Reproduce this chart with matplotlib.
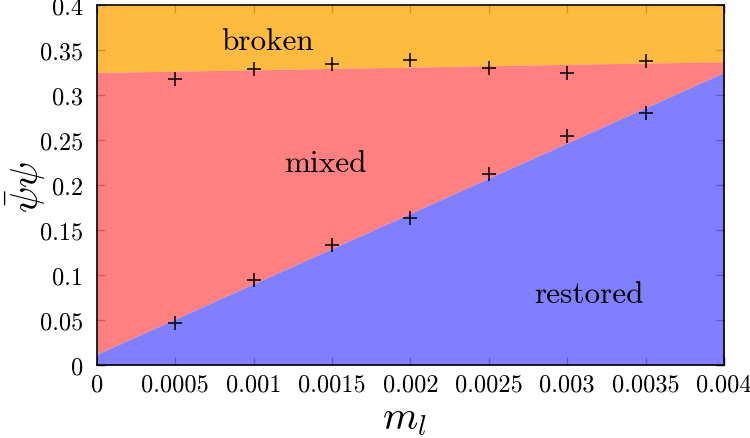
import numpy
import matplotlib
matplotlib.use('Agg')
import matplotlib.pyplot as plt

plt.rcParams['font.family'] = 'serif'
plt.rcParams['font.serif'] = ['cmr10']
plt.rcParams['mathtext.fontset'] = 'cm'
plt.rcParams['axes.formatter.use_mathtext'] = True

# measured points
ml = [0.0005, 0.001, 0.0015, 0.002, 0.0025, 0.003, 0.0035]
pbp_upper = [0.318, 0.3285, 0.3345, 0.339, 0.3305, 0.3245, 0.338]
pbp_lower = [0.0465, 0.094, 0.133, 0.163, 0.212, 0.254, 0.280]

# phase boundaries
bnd_x = [0.0, 0.004]
bnd_top = [0.325, 0.337]
bnd_bot = [0.012, 0.325]

xticks = [0, 0.0005, 0.001, 0.0015, 0.002, 0.0025, 0.003, 0.0035, 0.004]
xlabels = ['0', '0.0005', '0.001', '0.0015', '0.002', '0.0025', '0.003', '0.0035', '0.004']
yticks = [0, 0.05, 0.1, 0.15, 0.2, 0.25, 0.3, 0.35, 0.4]
ylabels = ['0', '0.05', '0.1', '0.15', '0.2', '0.25', '0.3', '0.35', '0.4']

def solid(c, a):
    # colour to use under alpha a so it looks like c over white
    c = numpy.array(matplotlib.colors.to_rgb(c))
    return tuple(numpy.clip((c - (1 - a)) / a, 0, 1))

a = 0.85
fig = plt.figure(figsize=(7.5, 4.39), dpi=100)
ax = fig.add_axes([0.1293, 0.1663, 0.836, 0.820])
ax.set_axisbelow(True)

ax.fill_between(bnd_x, bnd_top, [0.4, 0.4], color=solid('#ffbb40', a), alpha=a, lw=0, zorder=1)
ax.fill_between(bnd_x, bnd_bot, bnd_top, color=solid('#ff8080', a), alpha=a, lw=0, zorder=1)
ax.fill_between(bnd_x, [0, 0], bnd_bot, color=solid('#8080ff', a), alpha=a, lw=0, zorder=1)

ax.plot(ml, pbp_upper, 'k+', ms=10, mew=1.1, zorder=3)
ax.plot(ml, pbp_lower, 'k+', ms=10, mew=1.1, zorder=3)

ax.text(0.001091, 0.3511, 'broken', fontsize=22.5, ha='center', va='baseline', zorder=4)
ax.text(0.001455, 0.2156, 'mixed', fontsize=22.5, ha='center', va='baseline', zorder=4)
ax.text(0.003139, 0.0703, 'restored', fontsize=22.5, ha='center', va='baseline', zorder=4)

ax.set_xlim(0, 0.004)
ax.set_ylim(0, 0.4)
ax.set_xticks(xticks)
ax.set_xticklabels(xlabels)
ax.set_yticks(yticks)
ax.set_yticklabels(ylabels)
ax.tick_params(direction='in', length=6, width=1, top=True, right=True, labelsize=17.5)
ax.tick_params(axis='x', pad=6)
ax.tick_params(axis='y', pad=10)
for s in ax.spines.values():
    s.set_linewidth(1.2)
    s.set_zorder(5)

ax.set_xlabel(r'$m_l$', fontsize=29, va='center')
ax.xaxis.set_label_coords(0.491, -0.15)
ax.set_ylabel(r'$\bar{\psi}\psi$', fontsize=28, va='center')
ax.yaxis.set_label_coords(-0.113, 0.497)

fig.savefig('out.png', dpi=100)
